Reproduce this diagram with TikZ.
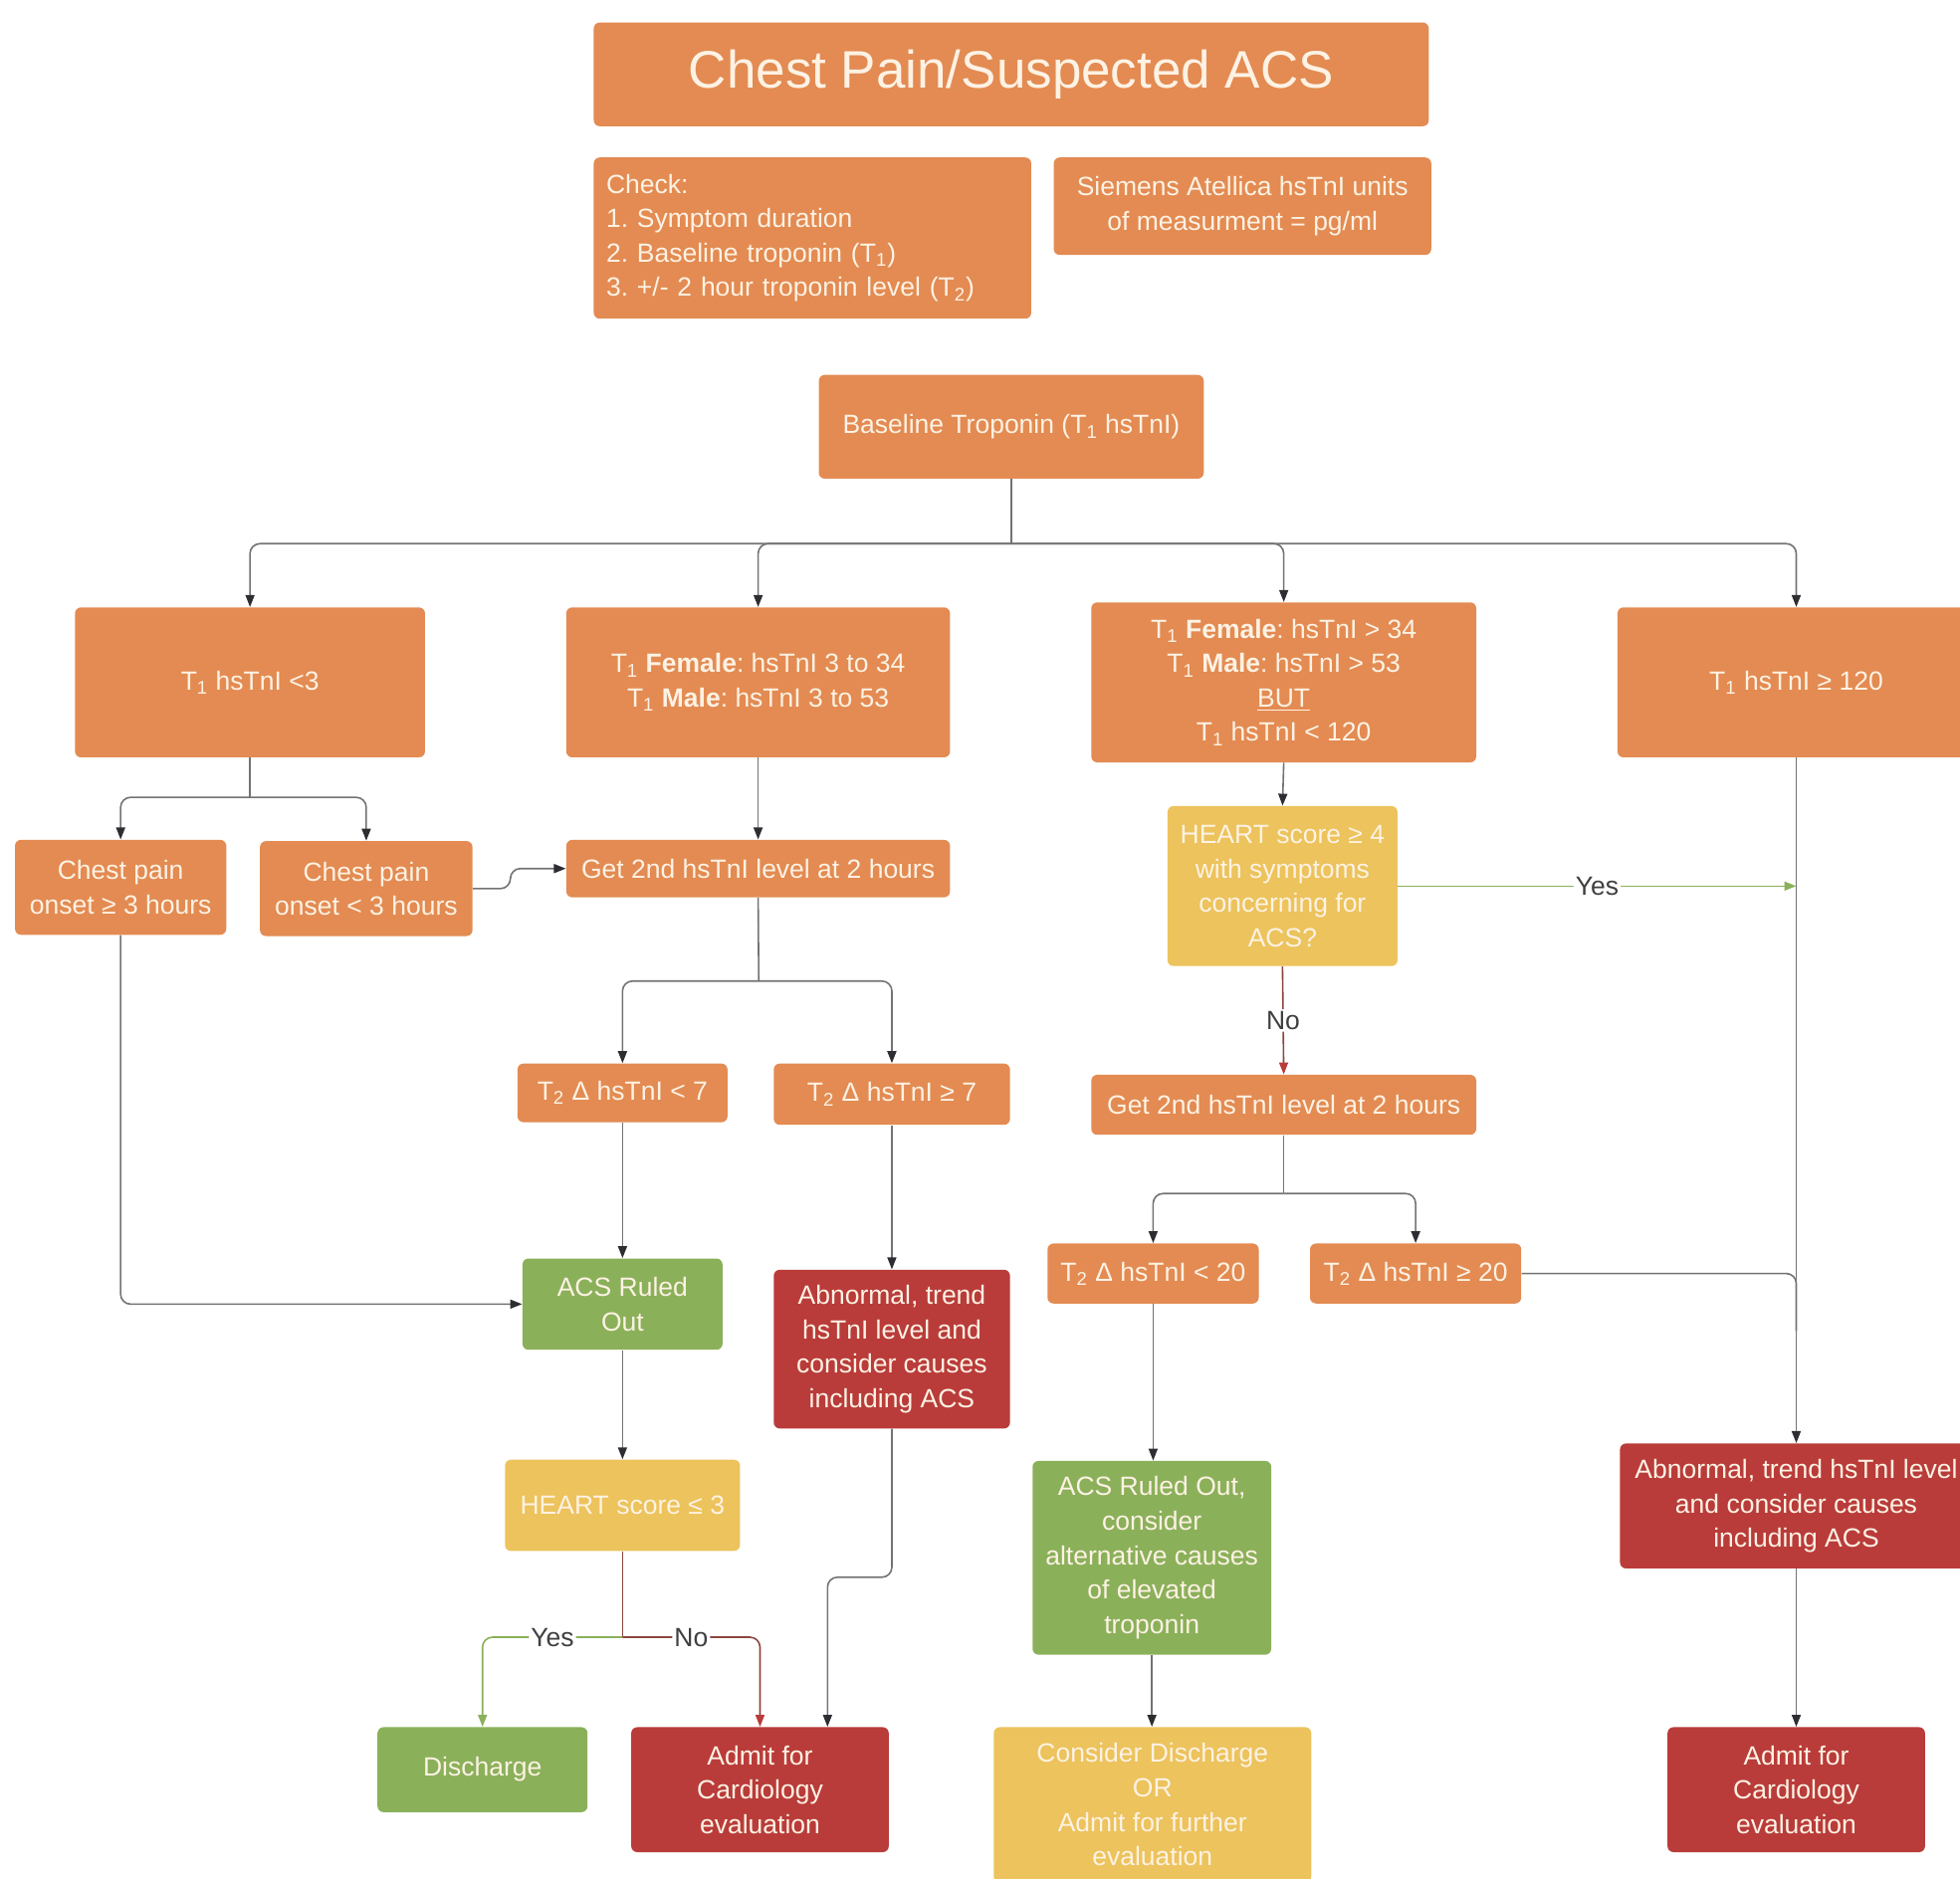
\documentclass[tikz,border=0pt]{standalone}
\usepackage{fontspec}
\setmainfont{Liberation Sans}
\usetikzlibrary{arrows.meta,calc}
\definecolor{cor}{RGB}{227,139,82}
\definecolor{cgr}{RGB}{139,176,90}
\definecolor{cre}{RGB}{185,60,58}
\definecolor{cye}{RGB}{236,195,92}
\definecolor{ctx}{RGB}{253,242,228}
\definecolor{cln}{RGB}{115,115,115}
\definecolor{car}{RGB}{45,45,50}
\definecolor{cbr}{RGB}{140,70,62}
\newcommand\bx[7]{\node[#6, minimum width={(#4-#2)*0.62785pt}, minimum height={(#5-#3)*0.62785pt}] (#1) at ({(#2+#4)/2},{(#3+#5)/2}) {#7};}
\tikzset{
  box/.style={rounded corners=3pt, inner sep=2pt, align=center, text=ctx},
  obox/.style={box, fill=cor},
  gbox/.style={box, fill=cgr},
  rbox/.style={box, fill=cre},
  ybox/.style={box, fill=cye},
  ln/.style={draw=cln, line width=0.8pt, rounded corners=5pt},
  arr/.style={ln, -{Triangle[length=6pt,width=4.5pt,color=car]}},
  arrg/.style={ln, draw=cgr, -{Triangle[length=6pt,width=4.5pt,color=cgr]}},
  arrr/.style={ln, draw=cbr, -{Triangle[length=6pt,width=4.5pt,color=cre]}},
  lnbr/.style={ln, draw=cbr},
  lab/.style={fill=white, inner sep=1pt, text=black!75},
}
\frenchspacing
\begin{document}
\begin{tikzpicture}[x=0.62785pt, y=-0.62785pt, font=\fontsize{13.25}{17.3}\selectfont]
\useasboundingbox (0,0) rectangle (1568,1503);
\clip (0,0) rectangle (1568,1503);
% boxes
\bx{title}{475}{18}{1143}{101}{obox,font=\fontsize{26.5}{30}\selectfont}{Chest Pain/Suspected ACS}
\bx{check}{475}{126}{825}{255}{obox,align=left,text width=207.2pt}{Check:\\1. Symptom duration\\2. Baseline troponin (T\textsubscript{1})\\3. +/- 2 hour troponin level (T\textsubscript{2})}
\bx{siem}{843}{126}{1145}{204}{obox}{Siemens Atellica hsTnI units\\of measurment = pg/ml}
\bx{base}{655}{300}{963}{383}{obox}{Baseline Troponin (T\textsubscript{1} hsTnI)}
\bx{tA}{60}{486}{340}{606}{obox}{T\textsubscript{1} hsTnI <3}
\bx{tB}{453}{486}{760}{606}{obox}{T\textsubscript{1} \textbf{Female}: hsTnI 3 to 34\\T\textsubscript{1} \textbf{Male}: hsTnI 3 to 53}
\bx{tC}{873}{482}{1181}{610}{obox}{T\textsubscript{1} \textbf{Female}: hsTnI > 34\\T\textsubscript{1} \textbf{Male}: hsTnI > 53\\\underline{BUT}\\T\textsubscript{1} hsTnI < 120}
\bx{tD}{1294}{486}{1580}{606}{obox}{T\textsubscript{1} hsTnI ≥ 120}
\bx{a1}{12}{672}{181}{748}{obox}{Chest pain\\onset ≥ 3 hours}
\bx{a2}{208}{673}{378}{749}{obox}{Chest pain\\onset < 3 hours}
\bx{b1}{453}{672}{760}{718}{obox}{Get 2nd hsTnI level at 2 hours}
\bx{c1}{934}{645}{1118}{773}{ybox}{HEART score ≥ 4\\with symptoms\\concerning for\\ACS?}
\bx{b2}{414}{851}{582}{898}{obox}{T\textsubscript{2} Δ hsTnI < 7}
\bx{b3}{619}{851}{808}{900}{obox}{T\textsubscript{2} Δ hsTnI ≥ 7}
\bx{c2}{873}{860}{1181}{908}{obox}{Get 2nd hsTnI level at 2 hours}
\bx{c3}{838}{995}{1007}{1043}{obox}{T\textsubscript{2} Δ hsTnI < 20}
\bx{c4}{1048}{995}{1217}{1043}{obox}{T\textsubscript{2} Δ hsTnI ≥ 20}
\bx{b4}{418}{1007}{578}{1080}{gbox}{ACS Ruled\\Out}
\bx{b5}{619}{1016}{808}{1143}{rbox}{Abnormal, trend\\hsTnI level and\\consider causes\\including ACS}
\bx{c5}{826}{1169}{1017}{1324}{gbox}{ACS Ruled Out,\\consider\\alternative causes\\of elevated\\troponin}
\bx{d2}{1296}{1155}{1578}{1255}{rbox}{Abnormal, trend hsTnI level\\and consider causes\\including ACS}
\bx{b6}{404}{1168}{592}{1241}{ybox}{HEART score ≤ 3}
\bx{dis}{302}{1382}{470}{1450}{gbox}{Discharge}
\bx{ad1}{505}{1382}{711}{1482}{rbox}{Admit for\\Cardiology\\evaluation}
\bx{c6}{795}{1382}{1049}{1506}{ybox}{Consider Discharge\\OR\\Admit for further\\evaluation}
\bx{ad2}{1334}{1382}{1540}{1482}{rbox}{Admit for\\Cardiology\\evaluation}
% connectors
\coordinate (j0) at (809,435);
\draw[ln] (base.south) -- (j0);
\draw[arr] (j0) -| (tA.north);
\draw[arr] (j0) -| (tB.north);
\draw[arr] (j0) -| (tC.north);
\draw[arr] (j0) -| (tD.north);
\coordinate (jA) at (200,638);
\draw[ln] (tA.south) -- (jA);
\draw[arr] (jA) -| (a1.north);
\draw[arr] (jA) -| (a2.north);
\draw[arr] (a2.east) -- ++(30,0) |- (b1.west);
\draw[arr] (tB.south) -- (tB.south |- b1.north);
\coordinate (jB) at (607,785);
\draw[ln] (b1.south) -- (jB);
\draw[arr] (jB) -| (b2.north);
\draw[arr] (jB) -| (b3.north);
\draw[arr] (b2.south) -- (b4.north);
\draw[arr] (b3.south) -- (b5.north);
\draw[arr] (a1.south) |- (b4.west);
\draw[arr] (b4.south) -- (b6.north);
\coordinate (j6) at (498,1310);
\draw[lnbr] (b6.south) -- (j6);
\draw[arrg] (j6) -| node[pos=0.25, lab]{Yes} (dis.north);
\draw[arrr] (j6) -| node[pos=0.25, lab]{No} (ad1.north);
\coordinate (k5) at (662,1262);
\draw[arr] (b5.south) |- (k5) -- (k5 |- ad1.north);
\draw[arr] (tC.south) -- (c1.north);
\draw[arrr] (c1.south) -- node[lab]{No} (c2.north);
\coordinate (yD) at (1437,709);
\draw[arrg] (c1.east) -- node[lab]{Yes} (yD);
\coordinate (jC) at (1027,955);
\draw[ln] (c2.south) -- (jC);
\draw[arr] (jC) -| (c3.north);
\draw[arr] (jC) -| (c4.north);
\draw[arr] (c3.south) -- (c3.south |- c5.north);
\draw[arr] (c5.south) -- (c5.south |- c6.north);
\draw[arr] (tD.south) -- (tD.south |- d2.north);
\coordinate (m4) at (1437,1065);
\draw[ln] (c4.east) -| (m4);
\draw[arr] (d2.south) -- (d2.south |- ad2.north);
\end{tikzpicture}
\end{document}
